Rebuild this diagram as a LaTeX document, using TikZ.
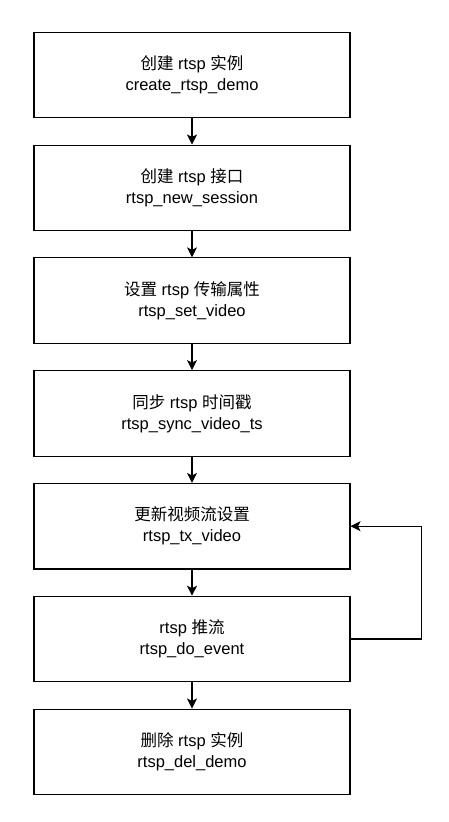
\documentclass[tikz,border=0pt]{standalone}
\usepackage{fontspec}
\setmainfont{Liberation Sans}
\newfontfamily\zhfont{Noto Sans CJK SC}
\newcommand{\zh}[1]{{\zhfont #1}}
\usetikzlibrary{arrows.meta,positioning}

\begin{document}
\begin{tikzpicture}[
    x=1pt, y=1pt,
    font=\fontsize{16.5}{21}\selectfont,
    >={Stealth[length=10pt, width=10pt, inset=2.5pt]},
    stepbox/.style={draw=black, fill=white, line width=1.1pt, align=center,
                    minimum width=316pt, minimum height=85.5pt, inner sep=0pt},
    flow/.style={->, line width=1.1pt, black},
  ]
    \useasboundingbox (0,0) rectangle (448,-822);

    % --- steps ------------------------------------------------------------
    \node[stepbox] (s1) at (192,-75)
      {\zh{创建} rtsp \zh{实例}\\create\_rtsp\_demo};
    \node[stepbox, below=26.2pt of s1] (s2)
      {\zh{创建} rtsp \zh{接口}\\rtsp\_new\_session};
    \node[stepbox, below=26.2pt of s2] (s3)
      {\zh{设置} rtsp \zh{传输属性}\\rtsp\_set\_video};
    \node[stepbox, below=26.2pt of s3] (s4)
      {\zh{同步} rtsp \zh{时间戳}\\rtsp\_sync\_video\_ts};
    \node[stepbox, below=26.2pt of s4] (s5)
      {\zh{更新视频流设置}\\rtsp\_tx\_video};
    \node[stepbox, below=26.2pt of s5] (s6)
      {rtsp \zh{推流}\\rtsp\_do\_event};
    \node[stepbox, below=26.2pt of s6] (s7)
      {\zh{删除} rtsp \zh{实例}\\rtsp\_del\_demo};

    % --- arrows -----------------------------------------------------------
    \draw[flow] (s1) -- (s2);
    \draw[flow] (s2) -- (s3);
    \draw[flow] (s3) -- (s4);
    \draw[flow] (s4) -- (s5);
    \draw[flow] (s5) -- (s6);
    \draw[flow] (s6) -- (s7);

    % --- loop back --------------------------------------------------------
    \draw[flow] (s6.east) -- ++(71pt,0) |- (s5.east);
  \end{tikzpicture}
\end{document}
